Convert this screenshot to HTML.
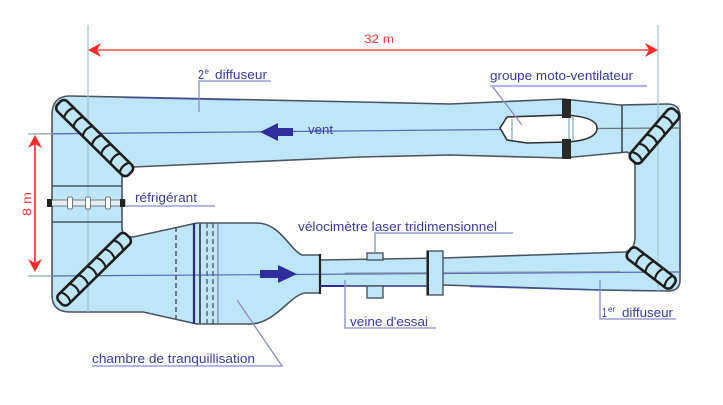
<!DOCTYPE html>
<html><head><meta charset="utf-8"><style>
html,body{margin:0;padding:0;background:#fff;}
svg{display:block;}
text{font-family:"Liberation Sans",Arial,sans-serif;}
</style></head><body>
<svg width="723" height="405" viewBox="0 0 723 405" xmlns="http://www.w3.org/2000/svg">
<rect width="723" height="405" fill="#fff"/>

<!-- tunnel body -->
<path fill="#bfe6f8" fill-rule="evenodd" stroke="#4a5560" stroke-width="1.6" stroke-linejoin="round"
 d="M52,115 Q52,96 70,96 L360,102 L450,104 L563,99 L620,105 L668,104 Q680,104 680,117 L680,280 Q680,291 668,291 L600,290 L443,285 L443,286 L320,286 L320,293 L305,293 C290,295 275,324 250,324 L197,324 L143,312 L70,312 Q52,312 52,295 Z
 M133,167 L360,157 L450,155 L563,158 L627,152 Q635,155 635,168 L635,237 Q635,250 625,252 L443,258 L320,260 L320,255 L302,255 C290,250 280,223 257,223 L197,223 L133,237 Q122,237 122,228 L122,178 Q122,168 133,167 Z"/>

<!-- some blue edge tints -->
<g stroke="#3a48b0" stroke-width="1.4" fill="none" opacity="0.7">
<line x1="125" y1="97.5" x2="240" y2="100"/>
<line x1="320" y1="286" x2="440" y2="286"/>
<line x1="470" y1="286.5" x2="600" y2="290"/>
<line x1="680" y1="140" x2="680" y2="270"/>
</g>

<!-- reference vertical lines -->
<line x1="88" y1="25" x2="88" y2="312" stroke="#9fc3d3" stroke-width="1.2"/>
<line x1="658" y1="25" x2="658" y2="291" stroke="#9fc3d3" stroke-width="1.2"/>

<!-- centerlines -->
<line x1="28" y1="134" x2="52" y2="133.8" stroke="#8fa6a8" stroke-width="1.3"/>
<line x1="52" y1="133.8" x2="500" y2="129.5" stroke="#5a68c4" stroke-width="1.3"/>
<line x1="597" y1="128.5" x2="680" y2="128" stroke="#6a7478" stroke-width="1.3"/>
<line x1="28" y1="276" x2="52" y2="276" stroke="#8fa6a8" stroke-width="1.3"/>
<line x1="52" y1="276" x2="680" y2="272" stroke="#5a68c4" stroke-width="1.2"/>
<line x1="345" y1="273" x2="620" y2="271.5" stroke="#8a9898" stroke-width="1.2" opacity="0.8"/>

<!-- refrigerant section -->
<line x1="52" y1="186" x2="122" y2="186" stroke="#4a5560" stroke-width="1.4"/>
<line x1="52" y1="222" x2="122" y2="222" stroke="#4a5560" stroke-width="1.4"/>
<rect x="48" y="200" width="77" height="6" fill="#e8eef0" stroke="#707a80" stroke-width="1"/>
<rect x="47" y="199" width="5" height="8" fill="#222"/>
<rect x="120" y="199" width="5" height="8" fill="#222"/>
<rect x="67.5" y="197" width="5" height="12" rx="1.5" fill="#fff" stroke="#707a80" stroke-width="1"/>
<rect x="85.5" y="197" width="5" height="12" rx="1.5" fill="#fff" stroke="#707a80" stroke-width="1"/>
<rect x="105.5" y="197" width="5" height="12" rx="1.5" fill="#fff" stroke="#707a80" stroke-width="1"/>

<!-- settling chamber screens -->
<line x1="176" y1="227" x2="176" y2="319" stroke="#4a5560" stroke-width="1.5" stroke-dasharray="5,3"/>
<line x1="194" y1="223" x2="194" y2="324" stroke="#2a2a80" stroke-width="2.2"/>
<line x1="200" y1="223" x2="200" y2="324" stroke="#4a5560" stroke-width="2"/>
<line x1="207" y1="223" x2="207" y2="324" stroke="#4a5560" stroke-width="1.3" stroke-dasharray="5,3"/>
<line x1="213" y1="223" x2="213" y2="324" stroke="#4a5560" stroke-width="1.3" stroke-dasharray="5,3"/>
<line x1="218" y1="223" x2="218" y2="324" stroke="#6a7680" stroke-width="1"/>

<!-- nozzle outlet -->
<line x1="320" y1="254" x2="320" y2="294" stroke="#222" stroke-width="2.2"/>
<line x1="320" y1="286" x2="345" y2="286" stroke="#2a2a90" stroke-width="2"/>

<!-- laser probe -->
<rect x="367" y="253" width="16" height="7" fill="#bfe6f8" stroke="#4a5560" stroke-width="1.4"/>
<rect x="367" y="286" width="16" height="12" fill="#bfe6f8" stroke="#4a5560" stroke-width="1.4"/>
<!-- flange -->
<rect x="427" y="251" width="16" height="44" fill="#bfe6f8" stroke="#4a5560" stroke-width="1.4"/>
<line x1="428" y1="251" x2="428" y2="295" stroke="#222" stroke-width="2"/>

<!-- fan section -->
<line x1="622" y1="105" x2="622" y2="153" stroke="#333" stroke-width="1.4"/>
<path d="M500,128 L507,117 L565,115 Q597,117 597,128 Q597,140 567,142 L527,143 L507,140 Z" fill="#fff" stroke="#333" stroke-width="1.6"/>
<line x1="512" y1="119" x2="512" y2="140" stroke="#7fa8b8" stroke-width="1.2"/>
<line x1="569" y1="116" x2="569" y2="141" stroke="#7fa8b8" stroke-width="1.2"/>
<line x1="573" y1="116" x2="573" y2="141" stroke="#7fa8b8" stroke-width="1.2"/>
<rect x="562" y="99" width="9" height="19" fill="#2a2a2a"/>
<rect x="562" y="139" width="9" height="20" fill="#2a2a2a"/>

<!-- turning vanes -->
<defs>
<g id="v7">
<rect x="0" y="-7" width="100" height="14" rx="5" fill="#bfe6f8" stroke="#1e1e1e" stroke-width="2.6"/>
<g stroke="#1e1e1e" stroke-width="2.2" fill="none">
<path d="M14,-7 Q10,0 14,7"/><path d="M27,-7 Q23,0 27,7"/><path d="M40,-7 Q36,0 40,7"/><path d="M53,-7 Q49,0 53,7"/><path d="M66,-7 Q62,0 66,7"/><path d="M79,-7 Q75,0 79,7"/><path d="M92,-7 Q88,0 92,7"/>
</g></g>
<g id="v5">
<rect x="0" y="-7" width="66" height="14" rx="5" fill="#bfe6f8" stroke="#1e1e1e" stroke-width="2.6"/>
<g stroke="#1e1e1e" stroke-width="2.2" fill="none">
<path d="M13,-7 Q9,0 13,7"/><path d="M25,-7 Q21,0 25,7"/><path d="M37,-7 Q33,0 37,7"/><path d="M49,-7 Q45,0 49,7"/><path d="M60,-7 Q56,0 60,7"/>
</g></g>
<g id="v4">
<rect x="0" y="-7" width="56" height="14" rx="5" fill="#bfe6f8" stroke="#1e1e1e" stroke-width="2.6"/>
<g stroke="#1e1e1e" stroke-width="2.2" fill="none">
<path d="M14,-7 Q10,0 14,7"/><path d="M26,-7 Q22,0 26,7"/><path d="M38,-7 Q34,0 38,7"/><path d="M50,-7 Q46,0 50,7"/>
</g></g>
</defs>
<use href="#v7" transform="translate(59,103) rotate(44.6)"/>
<use href="#v7" transform="translate(128,236) rotate(135.5) scale(0.95,1)"/>
<use href="#v5" transform="translate(676,111) rotate(130.7)"/>
<use href="#v4" transform="translate(629,251) rotate(37.5)"/>

<!-- flow arrows -->
<polygon points="260,132 278,123 278,128 293,128 293,136 278,136 278,141" fill="#2e2e9e"/>
<polygon points="297,274 278,265 278,270 260,270 260,278 278,278 278,283" fill="#2e2e9e"/>

<!-- red dimensions -->
<line x1="92" y1="50" x2="654" y2="50" stroke="#f27878" stroke-width="2"/>
<polygon points="88,50 101,43 97,50 101,57" fill="#ff2a2a"/>
<polygon points="658,50 645,43 649,50 645,57" fill="#ff2a2a"/>
<text x="364" y="43" font-size="12" fill="#ff3a3a" textLength="30" lengthAdjust="spacingAndGlyphs">32 m</text>

<line x1="35" y1="139" x2="35" y2="268" stroke="#ff4040" stroke-width="1.8"/>
<polygon points="35,135 28,148 35,144 42,148" fill="#ff2a2a"/>
<polygon points="35,272 28,259 35,263 42,259" fill="#ff2a2a"/>
<text transform="translate(31,216) rotate(-90)" font-size="12" fill="#ff3a3a" textLength="24" lengthAdjust="spacingAndGlyphs">8 m</text>

<!-- leaders & underlines -->
<g stroke="#8a8ad0" stroke-width="1.3" fill="none">
<polyline points="199,112 199,81 271,81"/>
<polyline points="522,125 492,86"/>
<polyline points="125,206 215,206"/>
<polyline points="375,253 375,233 513,233"/>
<polyline points="345,280 345,328 436,328"/>
<polyline points="237,300 282,366 92,366"/>
<polyline points="600,280 600,319 676,319"/>
</g>
<line x1="490" y1="86" x2="647" y2="86" stroke="#b4b4ea" stroke-width="2.2"/>

<!-- labels -->
<g fill="#3b3ba0" font-size="13">
<text x="198" y="79" textLength="6" lengthAdjust="spacingAndGlyphs">2</text>
<text x="204.5" y="74" font-size="8">e</text>
<text x="215" y="79" textLength="52" lengthAdjust="spacingAndGlyphs">diffuseur</text>
<text x="490" y="80" textLength="143" lengthAdjust="spacingAndGlyphs">groupe moto-ventilateur</text>
<text x="308" y="134" textLength="25" lengthAdjust="spacingAndGlyphs">vent</text>
<text x="135" y="202" textLength="62" lengthAdjust="spacingAndGlyphs">réfrigérant</text>
<text x="298" y="231" textLength="199" lengthAdjust="spacingAndGlyphs">vélocimètre laser tridimensionnel</text>
<text x="350" y="326" textLength="78" lengthAdjust="spacingAndGlyphs">veine d'essai</text>
<text x="92" y="363" textLength="163" lengthAdjust="spacingAndGlyphs">chambre de tranquillisation</text>
<text x="602" y="317" textLength="5" lengthAdjust="spacingAndGlyphs">1</text>
<text x="608" y="312" font-size="8">er</text>
<text x="622" y="317" textLength="51" lengthAdjust="spacingAndGlyphs">diffuseur</text>
</g>
</svg>
</body></html>
